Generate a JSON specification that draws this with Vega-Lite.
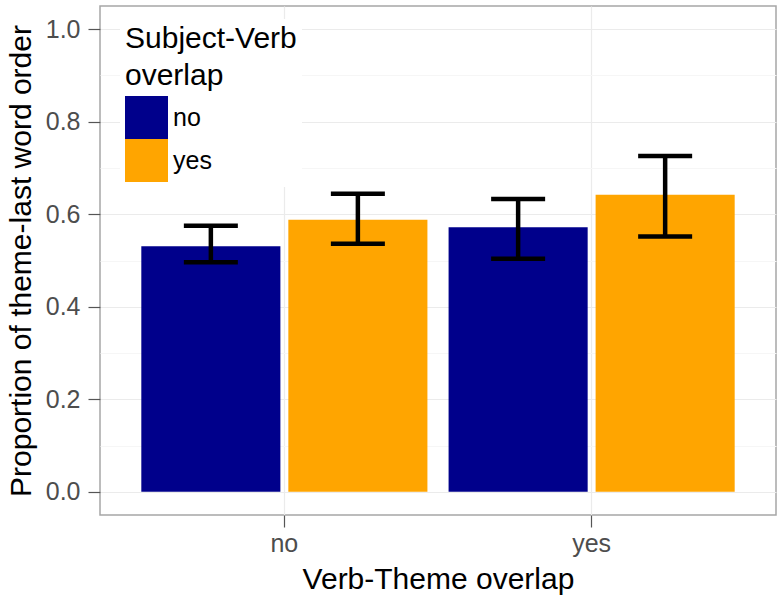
{
  "$schema": "https://vega.github.io/schema/vega-lite/v6.json",
  "width": 676,
  "height": 509,
  "autosize": "none",
  "padding": {"left": 100, "top": 6, "right": 8, "bottom": 92},
  "background": "white",
  "config": {
    "font": "Liberation Sans",
    "view": {"stroke": "#A6A6A6", "strokeWidth": 1.5},
    "axis": {"titleFontWeight": "normal"}
  },
  "data": {
    "values": [
      {"vt": "no", "sv": "no", "prop": 0.531, "lo": 0.496, "hi": 0.575},
      {"vt": "no", "sv": "yes", "prop": 0.588, "lo": 0.536, "hi": 0.644},
      {"vt": "yes", "sv": "no", "prop": 0.572, "lo": 0.504, "hi": 0.633},
      {"vt": "yes", "sv": "yes", "prop": 0.642, "lo": 0.552, "hi": 0.726}
    ]
  },
  "encoding": {
    "x": {
      "field": "vt",
      "type": "nominal",
      "scale": {"paddingInner": 0, "paddingOuter": 0.1},
      "axis": {
        "title": "Verb-Theme overlap",
        "titleFontSize": 30,
        "titleColor": "#000000",
        "titlePadding": 8,
        "labelAngle": 0,
        "labelFontSize": 25,
        "labelColor": "#4D4D4D",
        "labelPadding": 4,
        "tickSize": 12,
        "tickColor": "#555555",
        "tickWidth": 1.2,
        "domain": false,
        "grid": true,
        "gridColor": "#EBEBEB",
        "gridWidth": 1.2
      }
    },
    "xOffset": {
      "field": "sv",
      "type": "nominal",
      "scale": {"paddingInner": 0.054, "paddingOuter": 0.072}
    }
  },
  "layer": [
    {
      "mark": {"type": "bar"},
      "encoding": {
        "y": {
          "field": "prop",
          "type": "quantitative",
          "scale": {"domain": [-0.05, 1.05], "nice": false, "zero": false},
          "axis": {
            "title": "Proportion of theme-last word order",
            "titleFontSize": 30,
            "titleColor": "#000000",
            "titlePadding": 9,
            "values": [0, 0.2, 0.4, 0.6, 0.8, 1.0],
            "format": ".1f",
            "labelFontSize": 25,
            "labelColor": "#4D4D4D",
            "labelPadding": 8,
            "tickSize": 12,
            "tickColor": "#555555",
            "tickWidth": 1.2,
            "domain": false,
            "grid": true,
            "gridColor": "#EBEBEB",
            "gridWidth": 1.2
          }
        },
        "color": {
          "field": "sv",
          "type": "nominal",
          "scale": {"domain": ["no", "yes"], "range": ["#00008B", "#FFA500"]},
          "legend": {
            "title": ["Subject-Verb", "overlap"],
            "orient": "none",
            "legendX": 20,
            "legendY": 13,
            "padding": 5,
            "fillColor": "white",
            "titleFontSize": 30,
            "titleFontWeight": "normal",
            "titleColor": "#000000",
            "titleLineHeight": 37,
            "titlePadding": 5,
            "labelFontSize": 25,
            "labelColor": "#000000",
            "labelOffset": 5,
            "symbolType": "square",
            "symbolSize": 1849,
            "symbolStrokeWidth": 0,
            "symbolOpacity": 1,
            "rowPadding": 0
          }
        }
      }
    },
    {
      "mark": {"type": "rule", "opacity": 0},
      "encoding": {
        "y": {
          "field": "prop",
          "type": "quantitative",
          "axis": {
            "orient": "left",
            "values": [0.1, 0.3, 0.5, 0.7, 0.9],
            "labels": false,
            "ticks": false,
            "domain": false,
            "title": null,
            "grid": true,
            "gridColor": "#F6F6F6",
            "gridWidth": 1.2
          }
        }
      }
    },
    {
      "mark": {"type": "rule", "color": "black", "strokeWidth": 4.5},
      "encoding": {
        "y": {"field": "lo", "type": "quantitative", "axis": null},
        "y2": {"field": "hi"}
      }
    },
    {
      "mark": {"type": "tick", "color": "black", "opacity": 1, "thickness": 4.5, "size": 54},
      "encoding": {
        "y": {"field": "lo", "type": "quantitative", "axis": null}
      }
    },
    {
      "mark": {"type": "tick", "color": "black", "opacity": 1, "thickness": 4.5, "size": 54},
      "encoding": {
        "y": {"field": "hi", "type": "quantitative", "axis": null}
      }
    }
  ],
  "resolve": {"axis": {"y": "independent"}}
}
